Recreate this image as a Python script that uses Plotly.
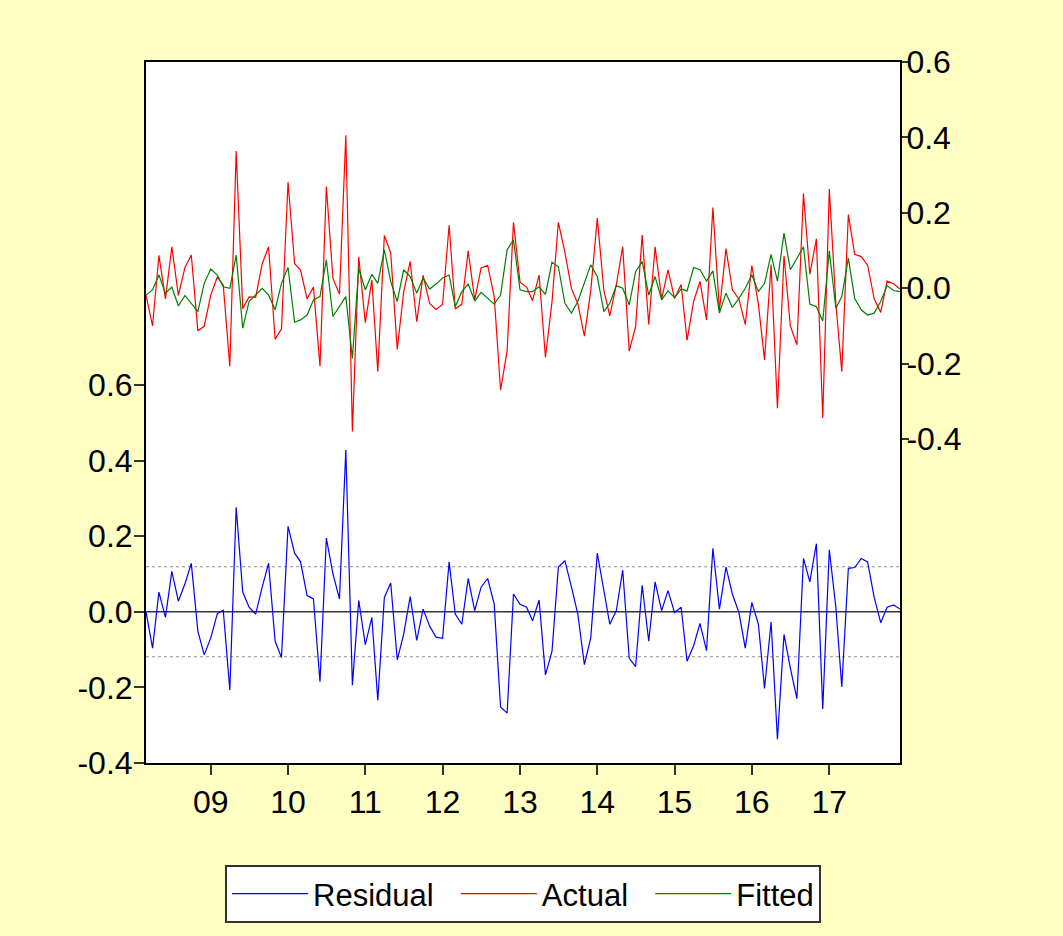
import pandas as pd
import plotly.graph_objects as go

# Monthly sample 2008M03 - 2017M12
dates = pd.date_range("2008-03-01", periods=118, freq="MS")

residual = [
    0.000, -0.096, 0.052, -0.015, 0.107, 0.028, 0.074, 0.128, -0.051, -0.114,
    -0.069, -0.005, 0.004, -0.207, 0.276, 0.052, 0.012, -0.006, 0.065, 0.128,
    -0.078, -0.121, 0.226, 0.155, 0.132, 0.043, 0.034, -0.185, 0.195, 0.101,
    0.034, 0.428, -0.194, 0.030, -0.087, -0.015, -0.234, 0.038, 0.076, -0.127,
    -0.060, 0.040, -0.076, 0.007, -0.038, -0.067, -0.070, 0.132, -0.006, -0.033,
    0.088, 0.003, 0.065, 0.088, 0.020, -0.252, -0.268, 0.047, 0.020, 0.012,
    -0.024, 0.031, -0.167, -0.105, 0.118, 0.135, 0.065, -0.006, -0.140, -0.069,
    0.155, 0.056, -0.033, 0.003, 0.110, -0.123, -0.145, 0.070, -0.078, 0.079,
    0.003, 0.056, -0.002, 0.012, -0.131, -0.090, -0.031, -0.103, 0.168, 0.007,
    0.118, 0.047, -0.002, -0.096, 0.025, -0.033, -0.203, -0.027, -0.337, -0.060,
    -0.149, -0.230, 0.141, 0.079, 0.180, -0.257, 0.164, 0.012, -0.199, 0.115,
    0.117, 0.141, 0.132, 0.038, -0.029, 0.012, 0.018, 0.007,
]

fitted = [
    -0.019, -0.004, 0.035, -0.013, 0.003, -0.047, -0.019, -0.040, -0.062, 0.013,
    0.051, 0.035, 0.004, 0.000, 0.088, -0.106, -0.035, -0.018, 0.000, -0.018,
    -0.057, 0.013, 0.055, -0.090, -0.084, -0.071, -0.031, -0.022, 0.075, -0.075,
    -0.049, -0.022, -0.186, 0.053, -0.004, 0.037, 0.013, 0.102, 0.018, -0.035,
    0.049, 0.031, -0.013, 0.027, -0.002, 0.011, 0.027, 0.035, -0.049, -0.009,
    0.011, -0.034, -0.011, -0.027, -0.042, -0.018, 0.102, 0.128, -0.004, -0.009,
    -0.009, 0.004, -0.016, 0.069, 0.057, -0.040, -0.066, -0.035, 0.013, 0.062,
    0.031, -0.062, -0.040, 0.007, 0.000, -0.044, 0.044, 0.071, -0.018, 0.031,
    -0.031, -0.007, -0.025, -0.002, -0.007, 0.055, 0.049, 0.019, 0.046, -0.066,
    -0.013, -0.051, -0.027, 0.000, 0.035, -0.009, 0.013, 0.090, 0.019, 0.146,
    0.049, 0.080, 0.110, -0.042, -0.049, -0.087, 0.099, -0.053, -0.022, 0.080,
    -0.027, -0.057, -0.071, -0.066, -0.035, 0.007, -0.006, -0.009,
]

actual = [
    -0.019, -0.100, 0.087, -0.028, 0.110, -0.019, 0.055, 0.088, -0.113, -0.101,
    -0.018, 0.030, 0.008, -0.207, 0.364, -0.054, -0.023, -0.024, 0.065, 0.110,
    -0.135, -0.108, 0.281, 0.065, 0.048, -0.028, 0.003, -0.207, 0.270, 0.026,
    -0.015, 0.406, -0.380, 0.083, -0.091, 0.022, -0.221, 0.140, 0.094, -0.162,
    -0.011, 0.071, -0.089, 0.034, -0.040, -0.056, -0.043, 0.167, -0.055, -0.042,
    0.099, -0.031, 0.054, 0.061, -0.022, -0.270, -0.166, 0.175, 0.016, 0.003,
    -0.033, 0.035, -0.183, -0.036, 0.175, 0.095, -0.001, -0.041, -0.127, -0.007,
    0.186, -0.006, -0.073, 0.010, 0.110, -0.167, -0.101, 0.141, -0.096, 0.110,
    -0.028, 0.049, -0.027, 0.010, -0.138, -0.035, 0.018, -0.084, 0.214, -0.059,
    0.105, -0.004, -0.029, -0.096, 0.060, -0.042, -0.190, 0.063, -0.318, 0.086,
    -0.100, -0.150, 0.251, 0.037, 0.131, -0.344, 0.263, -0.041, -0.221, 0.195,
    0.090, 0.084, 0.061, -0.028, -0.064, 0.019, 0.012, -0.002,
]

year_ticks = pd.date_range("2009-01-01", periods=9, freq="YS")
year_labels = ["09", "10", "11", "12", "13", "14", "15", "16", "17"]
y_ticks = [-0.4, -0.2, 0.0, 0.2, 0.4, 0.6]
y_labels = ["-0.4", "-0.2", "0.0", "0.2", "0.4", "0.6"]
se_band = 0.119

FONT = "Liberation Sans, Arial, sans-serif"
BG = "#FFFFC4"
GAP = "\u00a0\u00a0"  # extra room after each legend entry

fig = go.Figure()

# Residual on the left axis
fig.add_trace(go.Scatter(x=dates, y=residual, name="Residual" + GAP, mode="lines",
                         line=dict(color="#0000FF", width=1.2), yaxis="y"))
# Actual and fitted on the right axis
fig.add_trace(go.Scatter(x=dates, y=actual, name="Actual" + GAP, mode="lines",
                         line=dict(color="#FF0000", width=1.2), yaxis="y2"))
fig.add_trace(go.Scatter(x=dates, y=fitted, name="Fitted", mode="lines",
                         line=dict(color="#008000", width=1.2), yaxis="y2"))

# zero line and +/- one standard error band for the residuals
fig.add_hline(y=0, line=dict(color="#333333", width=1.5), layer="below")
for v in (se_band, -se_band):
    fig.add_hline(y=v, line=dict(color="#909090", width=1, dash="dot"), layer="below")

axis_common = dict(showgrid=False, zeroline=False, showline=True, linecolor="black",
                   linewidth=2, ticks="outside", tickwidth=2, tickcolor="#333333",
                   tickfont=dict(family=FONT, size=32, color="black"))

fig.update_layout(
    width=1063, height=936,
    margin=dict(l=146, r=163, t=62, b=173, autoexpand=False),
    paper_bgcolor=BG, plot_bgcolor="white",
    font=dict(family=FONT, size=32, color="black"),
    showlegend=True,
    legend=dict(orientation="h", x=0.5, xanchor="center", y=-0.1455, yanchor="top",
                bgcolor="white", bordercolor="#333333", borderwidth=2,
                font=dict(family=FONT, size=31), itemwidth=76,
                traceorder="normal"),
    xaxis=dict(range=[dates[0], dates[-1]], tickvals=list(year_ticks), ticktext=year_labels,
               mirror=True, ticklen=10, **axis_common),
    yaxis=dict(range=[-0.4, 1.454], tickvals=y_ticks, ticktext=y_labels,
               ticklen=10, ticklabelstandoff=-5, **axis_common),
    yaxis2=dict(range=[-1.259, 0.6], tickvals=y_ticks, ticktext=y_labels,
                overlaying="y", side="right", ticklen=7, ticklabelstandoff=-9,
                **axis_common),
)

fig.write_html("out.html")
